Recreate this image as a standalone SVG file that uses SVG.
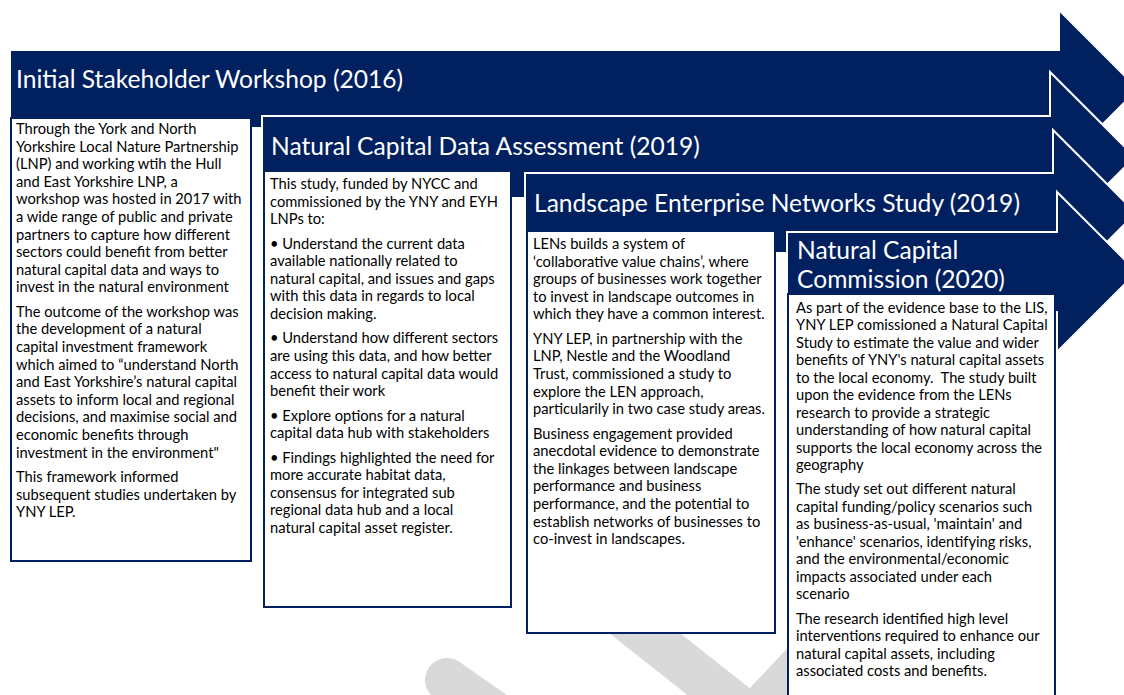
<svg xmlns="http://www.w3.org/2000/svg" width="1124" height="695" viewBox="0 0 1124 695">
<style>
.arrow{fill:#002060;stroke:#ffffff;stroke-width:2}
.box{fill:#ffffff;stroke:#002060;stroke-width:2}
.hdr{font-family:Lato,"Liberation Sans",sans-serif;font-size:24.6px;fill:#ffffff}
.txt{font-family:Lato,"Liberation Sans",sans-serif;font-size:14.7px;fill:#000000}
.wm{fill:none;stroke:#d9d9d9;stroke-width:44;stroke-linecap:round;stroke-linejoin:round}
</style>
<rect x="0" y="0" width="1124" height="695" fill="#ffffff"/>
<g id="watermark">
<path class="wm" d="M447,680 L540,745"/>
<path class="wm" d="M590,590 L752,718 L900,560"/>
</g>
<g id="node1">
<polygon class="arrow" points="10,50 1059,50 1059,10 1138,89 1059,168 1059,128 10,128"/>
<text class="hdr" x="16" y="88">Initial Stakeholder Workshop (2016)</text>
<rect class="box" x="11" y="118" width="240" height="443"/>
<text class="txt">
<tspan x="16" y="134">Through the York and North</tspan>
<tspan x="16" dy="17.6">Yorkshire Local Nature Partnership</tspan>
<tspan x="16" dy="17.6">(LNP) and working wtih the Hull</tspan>
<tspan x="16" dy="17.6">and East Yorkshire LNP, a</tspan>
<tspan x="16" dy="17.6">workshop was hosted in 2017 with</tspan>
<tspan x="16" dy="17.6">a wide range of public and private</tspan>
<tspan x="16" dy="17.6">partners to capture how different</tspan>
<tspan x="16" dy="17.6">sectors could benefit from better</tspan>
<tspan x="16" dy="17.6">natural capital data and ways to</tspan>
<tspan x="16" dy="17.6">invest in the natural environment</tspan>
<tspan x="16" dy="24.4">The outcome of the workshop was</tspan>
<tspan x="16" dy="17.6">the development of a natural</tspan>
<tspan x="16" dy="17.6">capital investment framework</tspan>
<tspan x="16" dy="17.6">which aimed to “understand North</tspan>
<tspan x="16" dy="17.6">and East Yorkshire’s natural capital</tspan>
<tspan x="16" dy="17.6">assets to inform local and regional</tspan>
<tspan x="16" dy="17.6">decisions, and maximise social and</tspan>
<tspan x="16" dy="17.6">economic benefits through</tspan>
<tspan x="16" dy="17.6">investment in the environment"</tspan>
<tspan x="16" dy="24.4">This framework informed</tspan>
<tspan x="16" dy="17.6">subsequent studies undertaken by</tspan>
<tspan x="16" dy="17.6">YNY LEP.</tspan>
</text>
</g>
<g id="node2">
<polygon class="arrow" points="262,116 1050,116 1050,72 1135,157 1050,242 1050,198 262,198"/>
<text class="hdr" x="271" y="155">Natural Capital Data Assessment (2019)</text>
<rect class="box" x="264" y="171" width="247" height="436"/>
<text class="txt">
<tspan x="270" y="189">This study, funded by NYCC and</tspan>
<tspan x="270" dy="17.6">commissioned by the YNY and EYH</tspan>
<tspan x="270" dy="17.6">LNPs to:</tspan>
<tspan x="270" dy="24.4">• Understand the current data</tspan>
<tspan x="270" dy="17.6">available nationally related to</tspan>
<tspan x="270" dy="17.6">natural capital, and issues and gaps</tspan>
<tspan x="270" dy="17.6">with this data in regards to local</tspan>
<tspan x="270" dy="17.6">decision making.</tspan>
<tspan x="270" dy="24.4">• Understand how different sectors</tspan>
<tspan x="270" dy="17.6">are using this data, and how better</tspan>
<tspan x="270" dy="17.6">access to natural capital data would</tspan>
<tspan x="270" dy="17.6">benefit their work</tspan>
<tspan x="270" dy="24.4">• Explore options for a natural</tspan>
<tspan x="270" dy="17.6">capital data hub with stakeholders</tspan>
<tspan x="270" dy="24.4">• Findings highlighted the need for</tspan>
<tspan x="270" dy="17.6">more accurate habitat data,</tspan>
<tspan x="270" dy="17.6">consensus for integrated sub</tspan>
<tspan x="270" dy="17.6">regional data hub and a local</tspan>
<tspan x="270" dy="17.6">natural capital asset register.</tspan>
</text>
</g>
<g id="node3">
<polygon class="arrow" points="525,173 1053,173 1053,130 1136,213 1053,296 1053,253 525,253"/>
<text class="hdr" x="534" y="212">Landscape Enterprise Networks Study (2019)</text>
<rect class="box" x="527" y="231" width="248" height="402"/>
<text class="txt">
<tspan x="533" y="249">LENs builds a system of</tspan>
<tspan x="533" dy="17.6">‘collaborative value chains’, where</tspan>
<tspan x="533" dy="17.6">groups of businesses work together</tspan>
<tspan x="533" dy="17.6">to invest in landscape outcomes in</tspan>
<tspan x="533" dy="17.6">which they have a common interest.</tspan>
<tspan x="533" dy="24.4">YNY LEP, in partnership with the</tspan>
<tspan x="533" dy="17.6">LNP, Nestle and the Woodland</tspan>
<tspan x="533" dy="17.6">Trust, commissioned a study to</tspan>
<tspan x="533" dy="17.6">explore the LEN approach,</tspan>
<tspan x="533" dy="17.6">particularily in two case study areas.</tspan>
<tspan x="533" dy="24.4">Business engagement provided</tspan>
<tspan x="533" dy="17.6">anecdotal evidence to demonstrate</tspan>
<tspan x="533" dy="17.6">the linkages between landscape</tspan>
<tspan x="533" dy="17.6">performance and business</tspan>
<tspan x="533" dy="17.6">performance, and the potential to</tspan>
<tspan x="533" dy="17.6">establish networks of businesses to</tspan>
<tspan x="533" dy="17.6">co-invest in landscapes.</tspan>
</text>
</g>
<g id="node4">
<polygon class="arrow" points="787,232 1057,232 1057,192 1137,272 1057,352 1057,312 787,312"/>
<text class="hdr"><tspan x="797" y="259">Natural Capital</tspan><tspan x="797" y="288">Commission (2020)</tspan></text>
<rect class="box" x="788" y="294" width="267" height="410"/>
<text class="txt">
<tspan x="796" y="312.5">As part of the evidence base to the LIS,</tspan>
<tspan x="796" dy="17.5">YNY LEP comissioned a Natural Capital</tspan>
<tspan x="796" dy="17.5">Study to estimate the value and wider</tspan>
<tspan x="796" dy="17.5">benefits of YNY's natural capital assets</tspan>
<tspan x="796" dy="17.5">to the local economy.&#160; The study built</tspan>
<tspan x="796" dy="17.5">upon the evidence from the LENs</tspan>
<tspan x="796" dy="17.5">research to provide a strategic</tspan>
<tspan x="796" dy="17.5">understanding of how natural capital</tspan>
<tspan x="796" dy="17.5">supports the local economy across the</tspan>
<tspan x="796" dy="17.5">geography</tspan>
<tspan x="796" dy="24.3">The study set out different natural</tspan>
<tspan x="796" dy="17.5">capital funding/policy scenarios such</tspan>
<tspan x="796" dy="17.5">as business-as-usual, 'maintain' and</tspan>
<tspan x="796" dy="17.5">'enhance' scenarios, identifying risks,</tspan>
<tspan x="796" dy="17.5">and the environmental/economic</tspan>
<tspan x="796" dy="17.5">impacts associated under each</tspan>
<tspan x="796" dy="17.5">scenario</tspan>
<tspan x="796" dy="24.3">The research identified high level</tspan>
<tspan x="796" dy="17.5">interventions required to enhance our</tspan>
<tspan x="796" dy="17.5">natural capital assets, including</tspan>
<tspan x="796" dy="17.5">associated costs and benefits.</tspan>
</text>
</g>
</svg>
